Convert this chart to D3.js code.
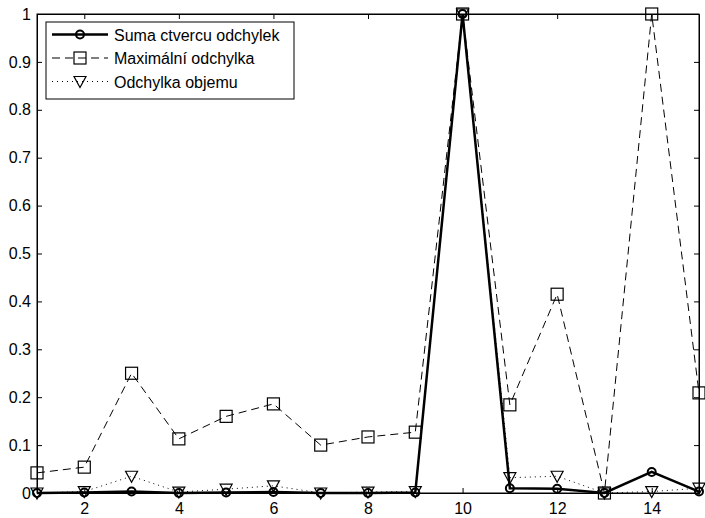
<!DOCTYPE html>
<html>
<head>
<meta charset="utf-8">
<script src="https://cdn.jsdelivr.net/npm/d3@7"></script>
<style>
body { margin: 0; background: #fff; }
text { font-family: "Liberation Sans", Arial, sans-serif; font-size: 16px; fill: #000; }
</style>
</head>
<body>
<div id="chart"></div>
<script>
// data
var xs = [1, 2, 3, 4, 5, 6, 7, 8, 9, 10, 11, 12, 13, 14, 15];
var sumaCtvercu = [0, 0.001, 0.003, 0, 0.001, 0.002, 0, 0, 0.001, 1, 0.01, 0.009, 0, 0.044, 0.003];
var maxOdchylka = [0.042, 0.054, 0.25, 0.113, 0.16, 0.186, 0.1, 0.117, 0.127, 1, 0.184, 0.415, 0, 1, 0.209];
var odchylkaObjemu = [0, 0.003, 0.035, 0.002, 0.008, 0.015, 0, 0.002, 0.003, 1, 0.032, 0.035, 0, 0.003, 0.01];
var xTicks = [2, 4, 6, 8, 10, 12, 14];
var yTicks = [0, 0.1, 0.2, 0.3, 0.4, 0.5, 0.6, 0.7, 0.8, 0.9, 1];
var legendLabels = ["Suma ctvercu odchylek", "Maximální odchylka", "Odchylka objemu"];

var margin = {top: 14, right: 6, bottom: 24, left: 37},
    width = 705 - margin.left - margin.right,
    height = 518 - margin.top - margin.bottom - 1;

var svg = d3.select("#chart").append("svg")
  .attr("width", 705).attr("height", 518)
  .append("g")
  .attr("transform", "translate(" + margin.left + "," + margin.top + ")");

var x = d3.scaleLinear().domain([1, 15]).range([0, width]);
var y = d3.scaleLinear().domain([0, 1]).range([height, 0]);

// axes with inward ticks on all four sides (matlab box)
svg.append("g").attr("transform", "translate(0," + height + ")")
  .call(d3.axisBottom(x).tickValues(xTicks).tickSizeInner(-5).tickSizeOuter(0).tickPadding(10).tickFormat(d3.format("d")));
svg.append("g")
  .call(d3.axisTop(x).tickValues(xTicks).tickSizeInner(-5).tickSizeOuter(0).tickFormat(""));
svg.append("g")
  .call(d3.axisLeft(y).tickValues(yTicks).tickSizeInner(-5).tickSizeOuter(0).tickPadding(6)
    .tickFormat(function(d) { return d === 0 || d === 1 ? d3.format("d")(d) : d3.format(".1f")(d); }));
svg.append("g").attr("transform", "translate(" + width + ",0)")
  .call(d3.axisRight(y).tickValues(yTicks).tickSizeInner(-5).tickSizeOuter(0).tickFormat(""));
svg.selectAll(".domain").attr("stroke", "#000");
svg.selectAll(".tick line").attr("stroke", "#000");
svg.selectAll(".tick text").attr("fill", "#000");
svg.append("rect").attr("width", width).attr("height", height)
  .attr("fill", "none").attr("stroke", "#000");

var line = d3.line().x(function(d, i) { return x(xs[i]); }).y(function(d) { return y(d); });

var series = [
  {vals: maxOdchylka, dash: "8,5", w: 1, marker: "square"},
  {vals: odchylkaObjemu, dash: "1,4", w: 1, marker: "triangle"},
  {vals: sumaCtvercu, dash: null, w: 2.5, marker: "circle"}
];

function drawMarker(g, type, cx, cy) {
  if (type === "square") {
    g.append("rect").attr("x", cx - 6).attr("y", cy - 6).attr("width", 12).attr("height", 12)
      .attr("fill", "none").attr("stroke", "#000").attr("stroke-width", 1.2);
  } else if (type === "triangle") {
    g.append("path").attr("d", "M" + (cx - 6) + "," + (cy - 5) + "L" + (cx + 6) + "," + (cy - 5) + "L" + cx + "," + (cy + 6) + "Z")
      .attr("fill", "none").attr("stroke", "#000").attr("stroke-width", 1.2);
  } else {
    g.append("circle").attr("cx", cx).attr("cy", cy).attr("r", 4)
      .attr("fill", "none").attr("stroke", "#000").attr("stroke-width", 2);
  }
}

series.forEach(function(s) {
  svg.append("path").datum(s.vals).attr("d", line)
    .attr("fill", "none").attr("stroke", "#000").attr("stroke-width", s.w)
    .attr("stroke-dasharray", s.dash);
  var g = svg.append("g");
  s.vals.forEach(function(v, i) { drawMarker(g, s.marker, x(xs[i]), y(v)); });
});

// legend
var lg = svg.append("g").attr("transform", "translate(9,8)");
lg.append("rect").attr("width", 248).attr("height", 77).attr("fill", "#fff").attr("stroke", "#000");
var legSeries = [series[2], series[0], series[1]];
legendLabels.forEach(function(lab, i) {
  var cy = 12.5 + i * 23.5;
  lg.append("line").attr("x1", 6).attr("x2", 62).attr("y1", cy).attr("y2", cy)
    .attr("stroke", "#000").attr("stroke-width", legSeries[i].w)
    .attr("stroke-dasharray", legSeries[i].dash);
  drawMarker(lg, legSeries[i].marker, 34, cy);
  lg.append("text").attr("x", 68).attr("y", cy + 6).text(lab);
});
</script>
</body>
</html>
